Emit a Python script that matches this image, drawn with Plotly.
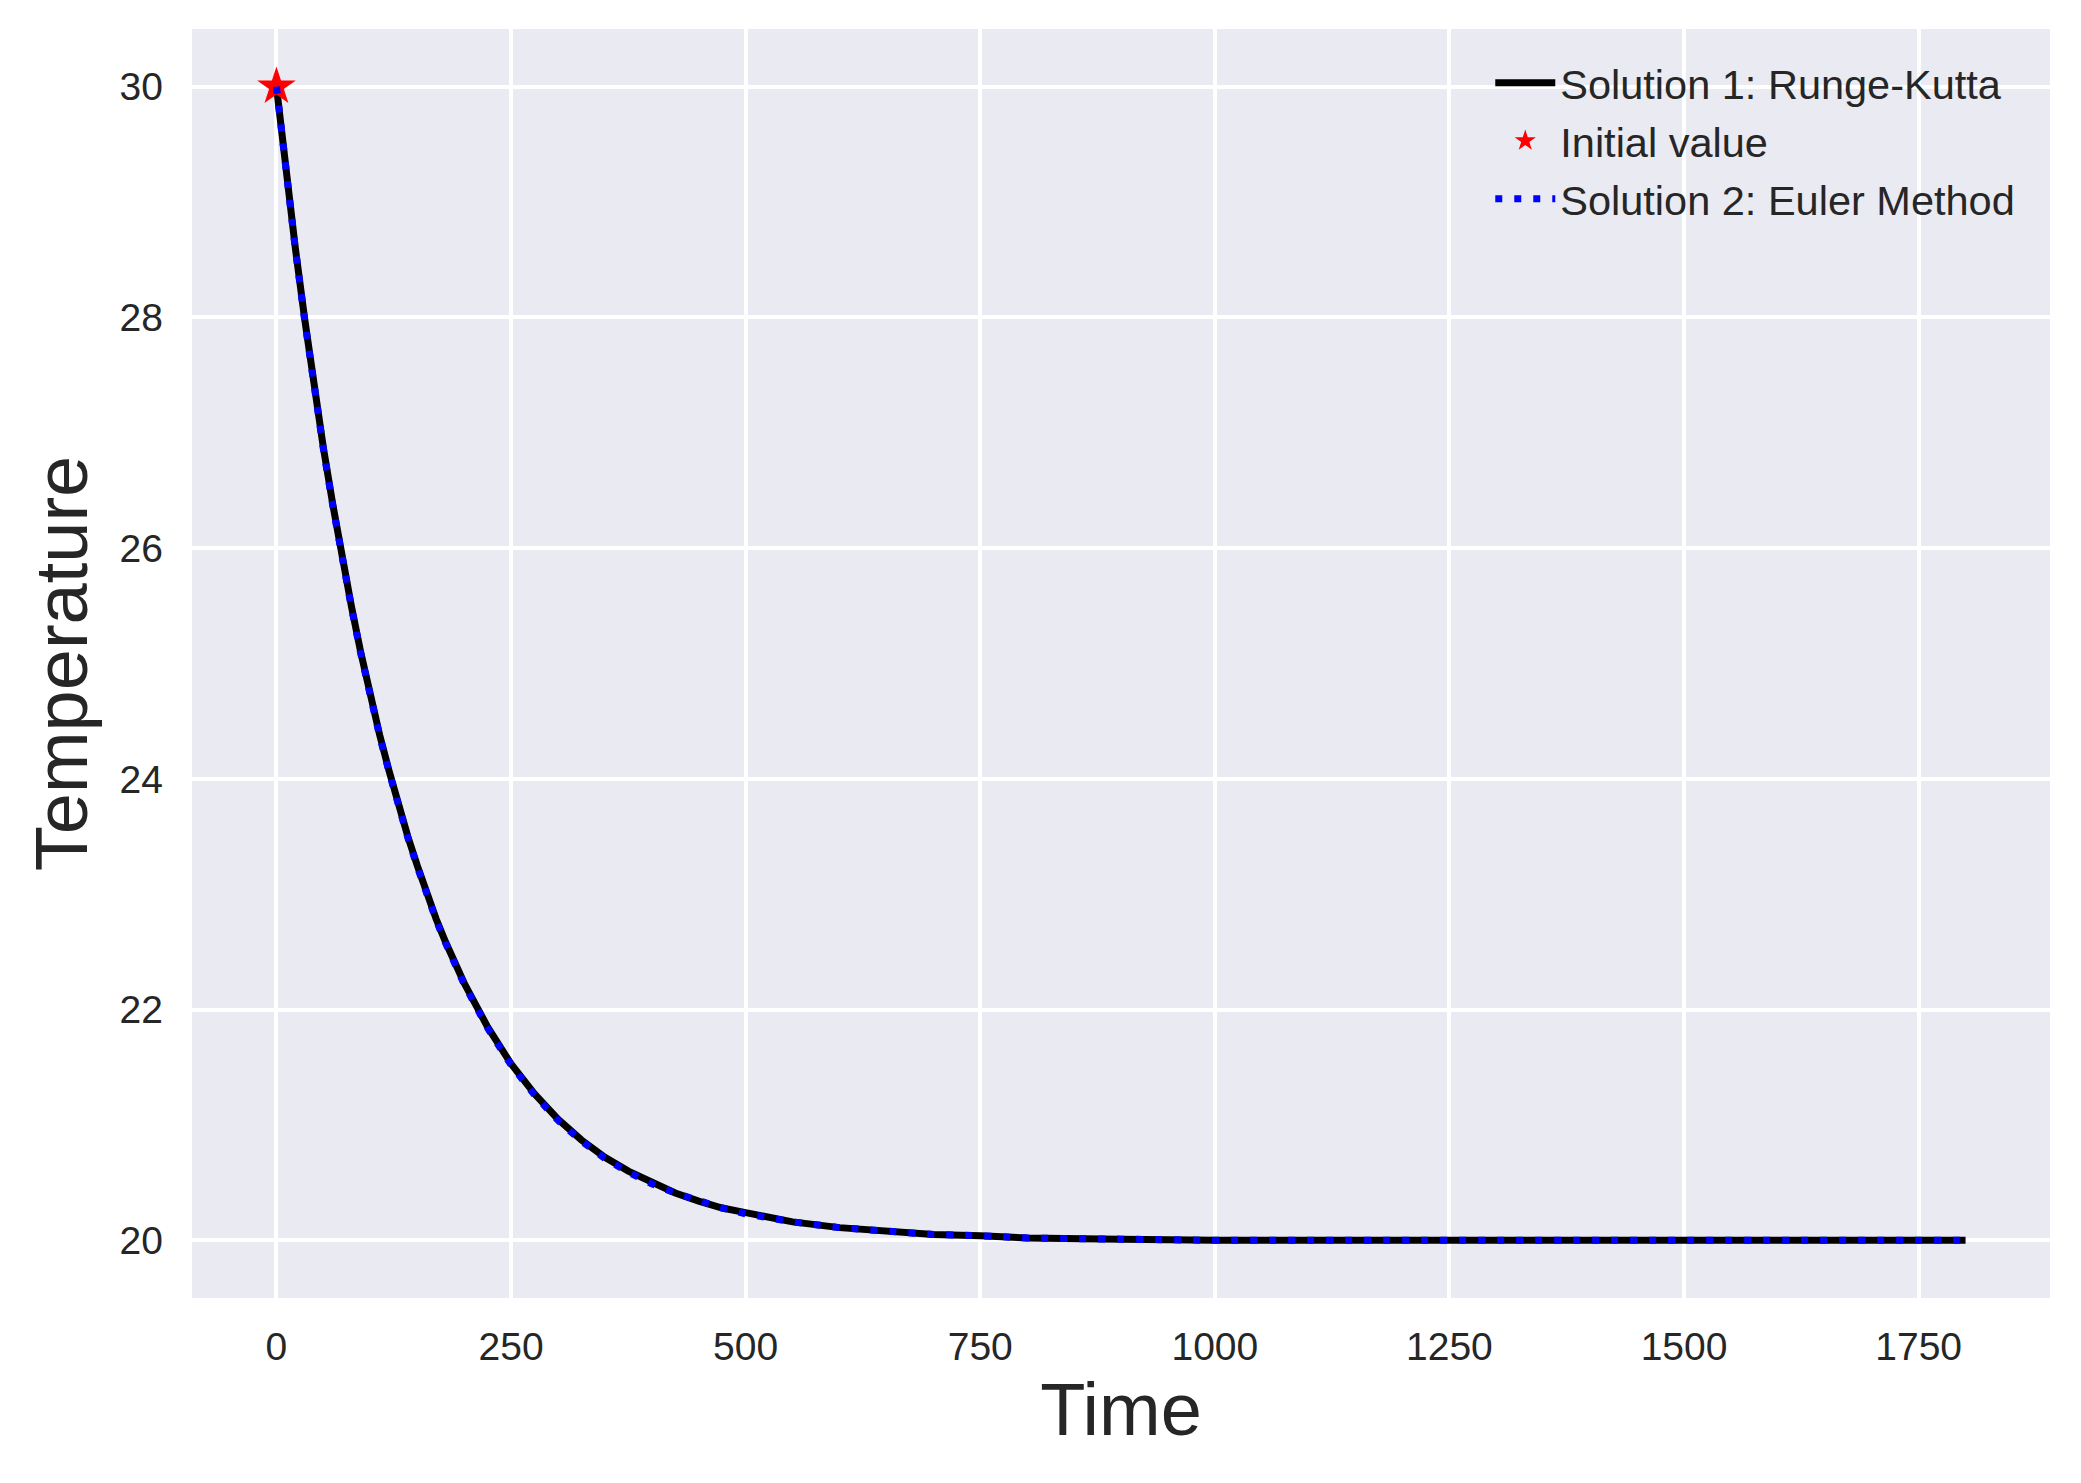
import plotly.graph_objects as go

# Time values (s)
time = [0, 10, 20, 30, 40, 50, 60, 70, 80, 90, 100, 110, 120, 130, 140, 150, 160, 170,
        180, 190, 200, 225, 250, 275, 300, 325, 350, 375, 400, 425, 450, 475, 500,
        550, 600, 650, 700, 750, 800, 900, 1000, 1200, 1400, 1600, 1800]

# Solution 1: Runge-Kutta
temp_rk = [30.00, 29.28, 28.61, 27.99, 27.41, 26.87, 26.38, 25.92, 25.49, 25.09, 24.72,
           24.38, 24.07, 23.77, 23.50, 23.25, 23.01, 22.79, 22.59, 22.41, 22.23,
           21.85, 21.53, 21.27, 21.05, 20.87, 20.72, 20.60, 20.50, 20.41, 20.34,
           20.28, 20.24, 20.16, 20.11, 20.08, 20.05, 20.04, 20.02, 20.01, 20.00,
           20.00, 20.00, 20.00, 20.00]

# Solution 2: Euler Method (visually overlapping the RK curve)
temp_euler = [30.00, 29.27, 28.60, 27.98, 27.40, 26.86, 26.37, 25.91, 25.48, 25.08, 24.71,
              24.37, 24.06, 23.76, 23.49, 23.24, 23.00, 22.78, 22.58, 22.40, 22.22,
              21.84, 21.52, 21.26, 21.04, 20.86, 20.71, 20.59, 20.49, 20.41, 20.34,
              20.28, 20.23, 20.16, 20.11, 20.08, 20.05, 20.04, 20.02, 20.01, 20.00,
              20.00, 20.00, 20.00, 20.00]

# Initial value
init_t = [0]
init_T = [30]

x_ticks = [0, 250, 500, 750, 1000, 1250, 1500, 1750]
y_ticks = [20, 22, 24, 26, 28, 30]

FONT = "Liberation Sans, Arial, sans-serif"
TXT = "#262626"

fig = go.Figure()
fig.add_trace(go.Scatter(x=time, y=temp_rk, mode="lines",
                         name="Solution 1: Runge-Kutta", legendgroup="a",
                         line=dict(color="black", width=7)))
fig.add_trace(go.Scatter(x=init_t, y=init_T, mode="markers",
                         name="Initial value", legendgroup="b",
                         marker=dict(symbol="star", color="red", size=29, line=dict(width=0))))
fig.add_trace(go.Scatter(x=time, y=temp_euler, mode="lines",
                         name="Solution 2: Euler Method", legendgroup="c",
                         line=dict(color="blue", width=7, dash="7px,12px")))

fig.update_layout(
    width=2081, height=1483,
    margin=dict(l=192, r=31, t=29, b=185),
    paper_bgcolor="white",
    plot_bgcolor="#EAEAF2",
    font=dict(family=FONT, color=TXT, size=39),
    showlegend=True,
    legend=dict(x=0.984, y=0.984, xanchor="right", yanchor="top",
                bgcolor="rgba(0,0,0,0)", borderwidth=0,
                font=dict(family=FONT, size=41.5, color=TXT),
                tracegroupgap=1, itemwidth=60),
)
fig.update_xaxes(range=[-90, 1890], tickvals=x_ticks, showgrid=True,
                 gridcolor="white", gridwidth=3.5, zeroline=False, showline=False,
                 ticks="", ticklabelstandoff=22,
                 tickfont=dict(family=FONT, size=39, color=TXT),
                 title=dict(text="Time", font=dict(family=FONT, size=74, color=TXT), standoff=13))
fig.update_yaxes(range=[19.5, 30.5], tickvals=y_ticks, showgrid=True,
                 gridcolor="white", gridwidth=3.5, zeroline=False, showline=False,
                 ticks="", ticklabelstandoff=28,
                 tickfont=dict(family=FONT, size=39, color=TXT),
                 title=dict(text="Temperature", font=dict(family=FONT, size=74, color=TXT), standoff=7))

fig.write_html("out.html")
